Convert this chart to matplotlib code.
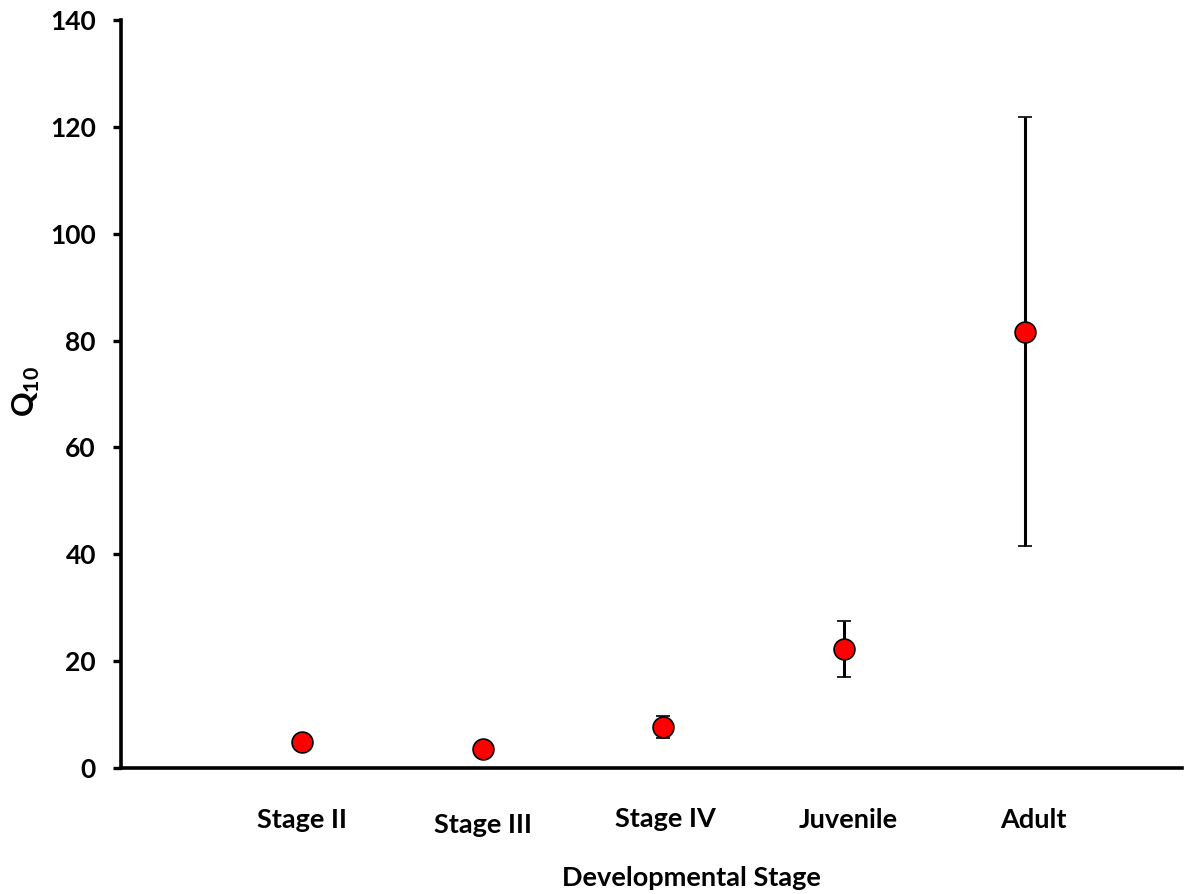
import matplotlib
matplotlib.use("Agg")
import matplotlib.pyplot as plt

# values
stages = ["Stage II", "Stage III", "Stage IV", "Juvenile", "Adult"]
q10 = [4.9, 3.5, 7.7, 22.3, 81.7]
q10_err = [0.0, 0.0, 2.1, 5.2, 40.1]
y_ticks = [0, 20, 40, 60, 80, 100, 120, 140]

plt.rcParams["font.family"] = ["Lato", "DejaVu Sans"]
plt.rcParams["font.weight"] = "bold"
plt.rcParams["mathtext.fontset"] = "custom"
plt.rcParams["mathtext.rm"] = "Lato:bold"
plt.rcParams["mathtext.bf"] = "Lato:bold"

fig = plt.figure(figsize=(11.99, 8.94), dpi=100)
ax = fig.add_axes([0.1009, 0.1409, 0.8851, 0.8367])

xpos = list(range(1, len(stages) + 1))
ax.errorbar(xpos, q10, yerr=q10_err, fmt="o", color="black",
            ecolor="black", elinewidth=2.2, capsize=4.8, capthick=2.2,
            markersize=15, markerfacecolor="#ff0000",
            markeredgecolor="black", markeredgewidth=1.2, zorder=3)

ax.set_xlim(0, 5.87)
ax.set_ylim(0, 140)
ax.set_yticks(y_ticks)
ax.tick_params(axis="y", direction="out", length=6, width=2.4,
               labelsize=19, pad=12)
ax.set_xticks([])

for s in ["top", "right"]:
    ax.spines[s].set_visible(False)
for s in ["left", "bottom"]:
    ax.spines[s].set_linewidth(2.6)

# category labels, "Stage III" sits a little lower as in the original
label_drop = [0, 5, -1, 0, 0]
label_shift = [0, 0, 2, 4, 8]
for x, name, dy, dx in zip(xpos, stages, label_drop, label_shift):
    ax.annotate(name, xy=(x, 0), xycoords="data",
                xytext=(dx, -52 - dy), textcoords="offset pixels",
                ha="center", va="center", fontsize=19.5, fontweight="bold")

ax.text(0.538, -0.147, "Developmental Stage", transform=ax.transAxes,
        ha="center", va="center", fontsize=19.5, fontweight="bold")
fig.text(0.022, 0.562, r"$\mathrm{Q}_{\mathrm{10}}$", rotation=90,
         ha="center", va="center", fontsize=22)

fig.savefig("out.png", dpi=100)
